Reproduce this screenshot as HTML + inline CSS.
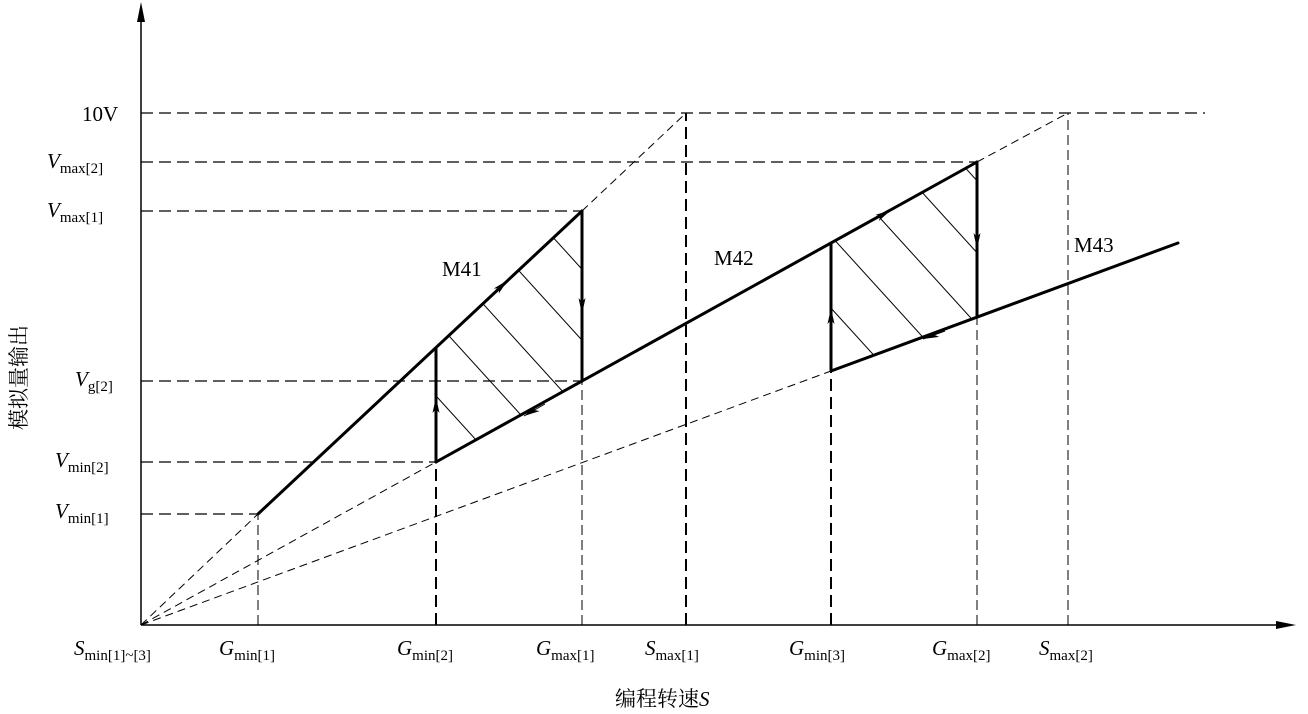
<!DOCTYPE html>
<html><head><meta charset="utf-8"><style>
html,body{margin:0;padding:0;background:#fff;}
svg{display:block;}
text{font-family:"Liberation Serif","Noto Serif CJK SC",serif;fill:#000;}
.l{font-size:21px;}
.s{font-size:15px;font-style:normal;}
</style></head><body>
<svg width="1308" height="714" viewBox="0 0 1308 714">
<defs>
<marker id="ar" viewBox="0 0 16 8" refX="16" refY="4" markerWidth="16" markerHeight="8" markerUnits="userSpaceOnUse" orient="auto"><path d="M0,0.5 L16,4 L0,7.5 L4,4 Z" fill="#000"/></marker>
<clipPath id="c1"><polygon points="436,462 436,348 582,211 582,381"/></clipPath>
<clipPath id="c2"><polygon points="831,371 831,243 977,162 977,317"/></clipPath>
</defs>
<line x1="141" y1="625" x2="141" y2="8" stroke="#000" stroke-width="1.5"/>
<path d="M137,22 L141,2 L145,22 Z" fill="#000"/>
<line x1="141" y1="625" x2="1290" y2="625" stroke="#000" stroke-width="1.5"/>
<path d="M1276,621 L1296,625 L1276,629 Z" fill="#000"/>
<g stroke="#000" stroke-width="1.2" stroke-dasharray="12,6" fill="none">
<line x1="141" y1="113" x2="1205" y2="113"/>
<line x1="141" y1="162" x2="977" y2="162"/>
<line x1="141" y1="211" x2="582" y2="211"/>
<line x1="141" y1="381" x2="582" y2="381"/>
<line x1="141" y1="462" x2="436" y2="462"/>
<line x1="141" y1="514" x2="258" y2="514"/>
</g>
<g stroke="#000" stroke-width="1" stroke-dasharray="10,5" fill="none">
<line x1="258" y1="625" x2="258" y2="514"/>
<line x1="582" y1="625" x2="582" y2="381"/>
<line x1="977" y1="625" x2="977" y2="317"/>
<line x1="1068" y1="625" x2="1068" y2="113"/>
</g>
<g stroke="#000" stroke-width="2" stroke-dasharray="12,6" fill="none">
<line x1="436" y1="625" x2="436" y2="462"/>
<line x1="686" y1="625" x2="686" y2="113"/>
<line x1="831" y1="625" x2="831" y2="371"/>
</g>
<g stroke="#000" stroke-width="1" stroke-dasharray="8,5" fill="none">
<line x1="141" y1="625" x2="258" y2="514"/>
<line x1="582" y1="211" x2="686" y2="113"/>
<line x1="141" y1="625" x2="436" y2="462"/>
<line x1="977" y1="162" x2="1068" y2="113"/>
<line x1="141" y1="625" x2="831" y2="371"/>
</g>
<g stroke="#000" stroke-width="1" clip-path="url(#c1)">
<line x1="400" y1="356.3" x2="620" y2="598.3"/>
<line x1="400" y1="282" x2="620" y2="524"/>
<line x1="400" y1="212.5" x2="620" y2="454.5"/>
<line x1="400" y1="140" x2="620" y2="382"/>
<line x1="400" y1="69" x2="620" y2="311"/>
</g>
<g stroke="#000" stroke-width="1" clip-path="url(#c2)">
<line x1="800" y1="274" x2="1000" y2="494"/>
<line x1="800" y1="202" x2="1000" y2="422"/>
<line x1="800" y1="130" x2="1000" y2="350"/>
<line x1="800" y1="58" x2="1000" y2="278"/>
<line x1="800" y1="-14" x2="1000" y2="206"/>
</g>
<g stroke="#000" stroke-width="3" fill="none" stroke-linecap="round">
<line x1="258" y1="514" x2="582" y2="211"/>
<line x1="436" y1="462" x2="977" y2="162"/>
<line x1="831" y1="371" x2="1178" y2="243"/>
<line x1="436" y1="462" x2="436" y2="348"/>
<line x1="582" y1="211" x2="582" y2="381"/>
<line x1="831" y1="371" x2="831" y2="243"/>
<line x1="977" y1="162" x2="977" y2="317"/>
</g>
<g fill="none" stroke="#000" stroke-width="1">
<line x1="490" y1="297" x2="508" y2="280" marker-end="url(#ar)"/>
<line x1="582" y1="296" x2="582" y2="314" marker-end="url(#ar)"/>
<line x1="545" y1="404" x2="524" y2="416" marker-end="url(#ar)"/>
<line x1="436" y1="416" x2="436" y2="397" marker-end="url(#ar)"/>
<line x1="870" y1="222" x2="891" y2="210" marker-end="url(#ar)"/>
<line x1="977" y1="230" x2="977" y2="249" marker-end="url(#ar)"/>
<line x1="945" y1="331" x2="923" y2="339" marker-end="url(#ar)"/>
<line x1="831" y1="328" x2="831" y2="308" marker-end="url(#ar)"/>
</g>
<text class="l" x="442" y="276">M41</text>
<text class="l" x="714" y="265">M42</text>
<text class="l" x="1074" y="252">M43</text>
<text class="l" x="82" y="121">10V</text>
<text class="l" x="47" y="168"><tspan font-style="italic">V</tspan><tspan class="s" dy="5">max[2]</tspan></text>
<text class="l" x="47" y="217"><tspan font-style="italic">V</tspan><tspan class="s" dy="5">max[1]</tspan></text>
<text class="l" x="75" y="386"><tspan font-style="italic">V</tspan><tspan class="s" dy="5">g[2]</tspan></text>
<text class="l" x="55" y="467"><tspan font-style="italic">V</tspan><tspan class="s" dy="5">min[2]</tspan></text>
<text class="l" x="55" y="518"><tspan font-style="italic">V</tspan><tspan class="s" dy="5">min[1]</tspan></text>
<text class="l" x="74" y="655"><tspan font-style="italic">S</tspan><tspan class="s" dy="5">min[1]~[3]</tspan></text>
<text class="l" x="219" y="655"><tspan font-style="italic">G</tspan><tspan class="s" dy="5">min[1]</tspan></text>
<text class="l" x="397" y="655"><tspan font-style="italic">G</tspan><tspan class="s" dy="5">min[2]</tspan></text>
<text class="l" x="536" y="655"><tspan font-style="italic">G</tspan><tspan class="s" dy="5">max[1]</tspan></text>
<text class="l" x="645" y="655"><tspan font-style="italic">S</tspan><tspan class="s" dy="5">max[1]</tspan></text>
<text class="l" x="789" y="655"><tspan font-style="italic">G</tspan><tspan class="s" dy="5">min[3]</tspan></text>
<text class="l" x="932" y="655"><tspan font-style="italic">G</tspan><tspan class="s" dy="5">max[2]</tspan></text>
<text class="l" x="1039" y="655"><tspan font-style="italic">S</tspan><tspan class="s" dy="5">max[2]</tspan></text>
<text class="l" x="615" y="706">编程转速<tspan font-style="italic">S</tspan></text>
<text class="l" transform="translate(26,430) rotate(-90)">模拟量输出</text>
</svg>
</body></html>
